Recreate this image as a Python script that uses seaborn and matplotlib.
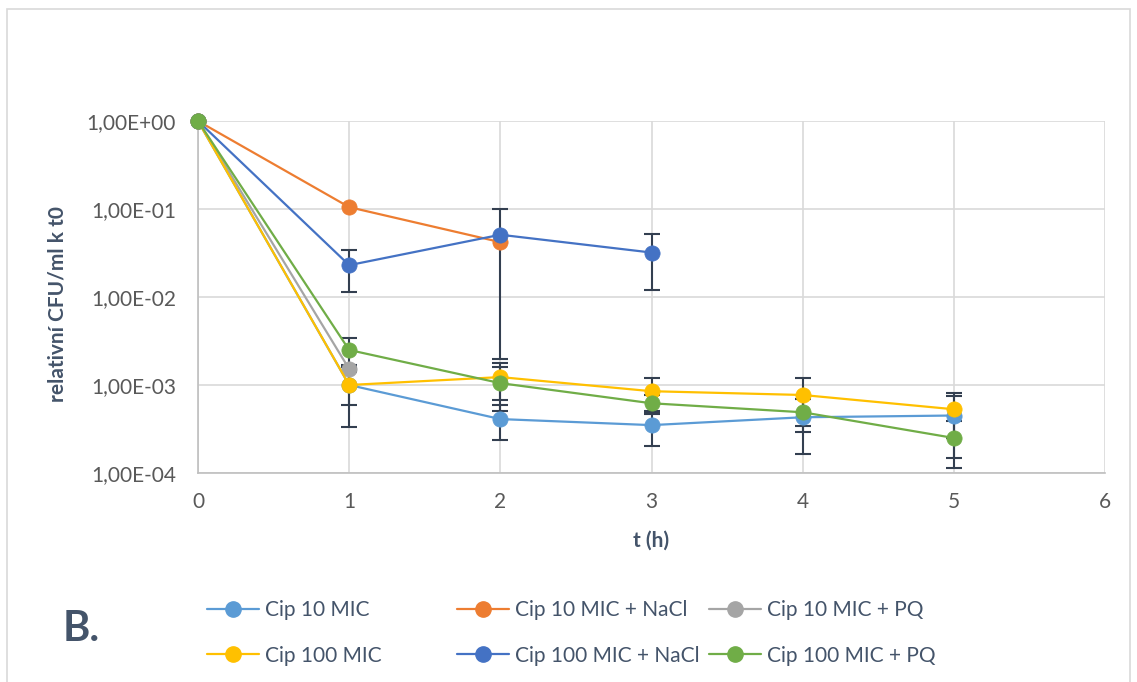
import numpy as np
import pandas as pd
import matplotlib
matplotlib.use("Agg")
import matplotlib.pyplot as plt
from matplotlib.lines import Line2D
from matplotlib.patches import Rectangle
import seaborn as sns

# Time points (h)
t = [0, 1, 2, 3, 4, 5]

# Relative CFU/ml versus t0 (mean) and standard deviation per series
cip10 = [1.0, 1.0e-3, 4.1e-4, 3.5e-4, 4.3e-4, 4.5e-4]
cip10_sd = [0, 6.7e-4, 1.75e-4, 1.47e-4, 2.65e-4, 3.0e-4]

cip10_nacl = [1.0, 1.05e-1, 4.2e-2, np.nan, np.nan, np.nan]
cip10_nacl_sd = [0, 0, 0, np.nan, np.nan, np.nan]

cip10_pq = [1.0, 1.52e-3, np.nan, np.nan, np.nan, np.nan]
cip10_pq_sd = [0, 0, np.nan, np.nan, np.nan, np.nan]

cip100 = [1.0, 1.0e-3, 1.23e-3, 8.5e-4, 7.7e-4, 5.3e-4]
cip100_sd = [0, 4.0e-4, 5.6e-4, 3.5e-4, 4.3e-4, 2.8e-4]

cip100_nacl = [1.0, 2.3e-2, 5.1e-2, 3.2e-2, np.nan, np.nan]
cip100_nacl_sd = [0, 1.15e-2, 4.9e-2, 2.0e-2, np.nan, np.nan]

cip100_pq = [1.0, 2.5e-3, 1.05e-3, 6.2e-4, 4.9e-4, 2.5e-4]
cip100_pq_sd = [0, 9.0e-4, 5.5e-4, 1.5e-4, 2.0e-4, 1.36e-4]

series_names = ["Cip 10 MIC", "Cip 10 MIC + NaCl", "Cip 10 MIC + PQ",
                "Cip 100 MIC", "Cip 100 MIC + NaCl", "Cip 100 MIC + PQ"]
series_means = [cip10, cip10_nacl, cip10_pq, cip100, cip100_nacl, cip100_pq]
series_sds = [cip10_sd, cip10_nacl_sd, cip10_pq_sd, cip100_sd, cip100_nacl_sd, cip100_pq_sd]
colors = ["#5B9BD5", "#ED7D31", "#A5A5A5", "#FFC000", "#4472C4", "#70AD47"]

ytick_vals = [1e-4, 1e-3, 1e-2, 1e-1, 1e0]
ytick_labels = ["1,00E-04", "1,00E-03", "1,00E-02", "1,00E-01", "1,00E+00"]
xtick_vals = [0, 1, 2, 3, 4, 5, 6]

df = pd.DataFrame(
    [(name, ti, v) for name, vals in zip(series_names, series_means)
     for ti, v in zip(t, vals)],
    columns=["series", "t", "value"],
)

sns.set_theme(style="white")
plt.rcParams["font.family"] = ["Lato", "DejaVu Sans"]

text_col = "#595959"
label_col = "#44546A"
err_col = "#333F50"
grid_col = "#D9D9D9"

W, H = 1137, 682
fig = plt.figure(figsize=(W / 100, H / 100), dpi=100)
ax = fig.add_axes([198 / W, 1 - 473 / H, (1105 - 198) / W, (473 - 121) / H])

# error bars per series
for name, vals, sds, col in zip(series_names, series_means, series_sds, colors):
    vals = np.array(vals, dtype=float)
    sds = np.array(sds, dtype=float)
    mask = ~np.isnan(vals) & ~np.isnan(sds) & (np.nan_to_num(sds) > 0)
    if mask.any():
        ax.errorbar(np.array(t)[mask], vals[mask], yerr=sds[mask], fmt="none",
                    ecolor=err_col, elinewidth=1.5, capsize=6, capthick=1.5, zorder=2)

for name, col in zip(series_names, colors):
    sub = df[df["series"] == name].dropna()
    sns.lineplot(data=sub, x="t", y="value", ax=ax, color=col, marker="o",
                 markersize=11, markeredgecolor=col, markeredgewidth=0.5,
                 linewidth=1.6, legend=False, zorder=3, clip_on=False)

ax.set_yscale("log")
ax.set_ylim(1e-4, 1e0)
ax.set_xlim(0, 6)
ax.set_yticks(ytick_vals)
ax.set_yticklabels(ytick_labels)
ax.minorticks_off()
ax.set_xticks(xtick_vals)
ax.set_xticklabels([str(v) for v in xtick_vals])
ax.tick_params(axis="y", length=0, labelsize=15, colors=text_col, pad=16)
ax.tick_params(axis="x", length=0, labelsize=15, colors=text_col, pad=14)
ax.grid(True, which="major", color=grid_col, linewidth=1.2)
ax.set_axisbelow(True)
for side in ["top", "right"]:
    ax.spines[side].set_visible(False)
for side in ["left", "bottom"]:
    ax.spines[side].set_color("#BFBFBF")
    ax.spines[side].set_linewidth(1.2)
ax.patch.set_alpha(0)

ax.set_xlabel("t (h)", fontsize=15, fontweight="bold", color=label_col, va="center")
ax.set_ylabel("relativní CFU/ml k t0", fontsize=15, fontweight="bold", color=label_col, va="center")
ax.xaxis.set_label_coords(0.5, (473 - 541) / (473 - 121))
ax.yaxis.set_label_coords((57 - 198) / (1105 - 198), 0.48)

# legend: three columns of two rows each
handles = [Line2D([0], [0], color=c, marker="o", markersize=11, markeredgecolor=c,
                  linewidth=1.6) for c in colors]
col_x = [207, 457, 709]
for k in range(3):
    idx = [k, k + 3]
    fig.legend([handles[i] for i in idx], [series_names[i] for i in idx],
               loc="center left", bbox_to_anchor=(col_x[k] / W, 1 - 633 / H),
               frameon=False, fontsize=15, labelcolor=label_col,
               handlelength=2.5, handletextpad=0.3, labelspacing=1.2,
               borderpad=0, borderaxespad=0)

fig.text(63 / W, 1 - 629 / H, "B.", fontsize=30, fontweight="bold",
         color=label_col, va="center", ha="left")

fig.patches.append(Rectangle((7 / W, -0.02), (1130 - 7) / W, 1 - 9 / H + 0.02,
                             transform=fig.transFigure, fill=False,
                             edgecolor="#D9D9D9", linewidth=1.2))

fig.savefig("out.png", dpi=100)
